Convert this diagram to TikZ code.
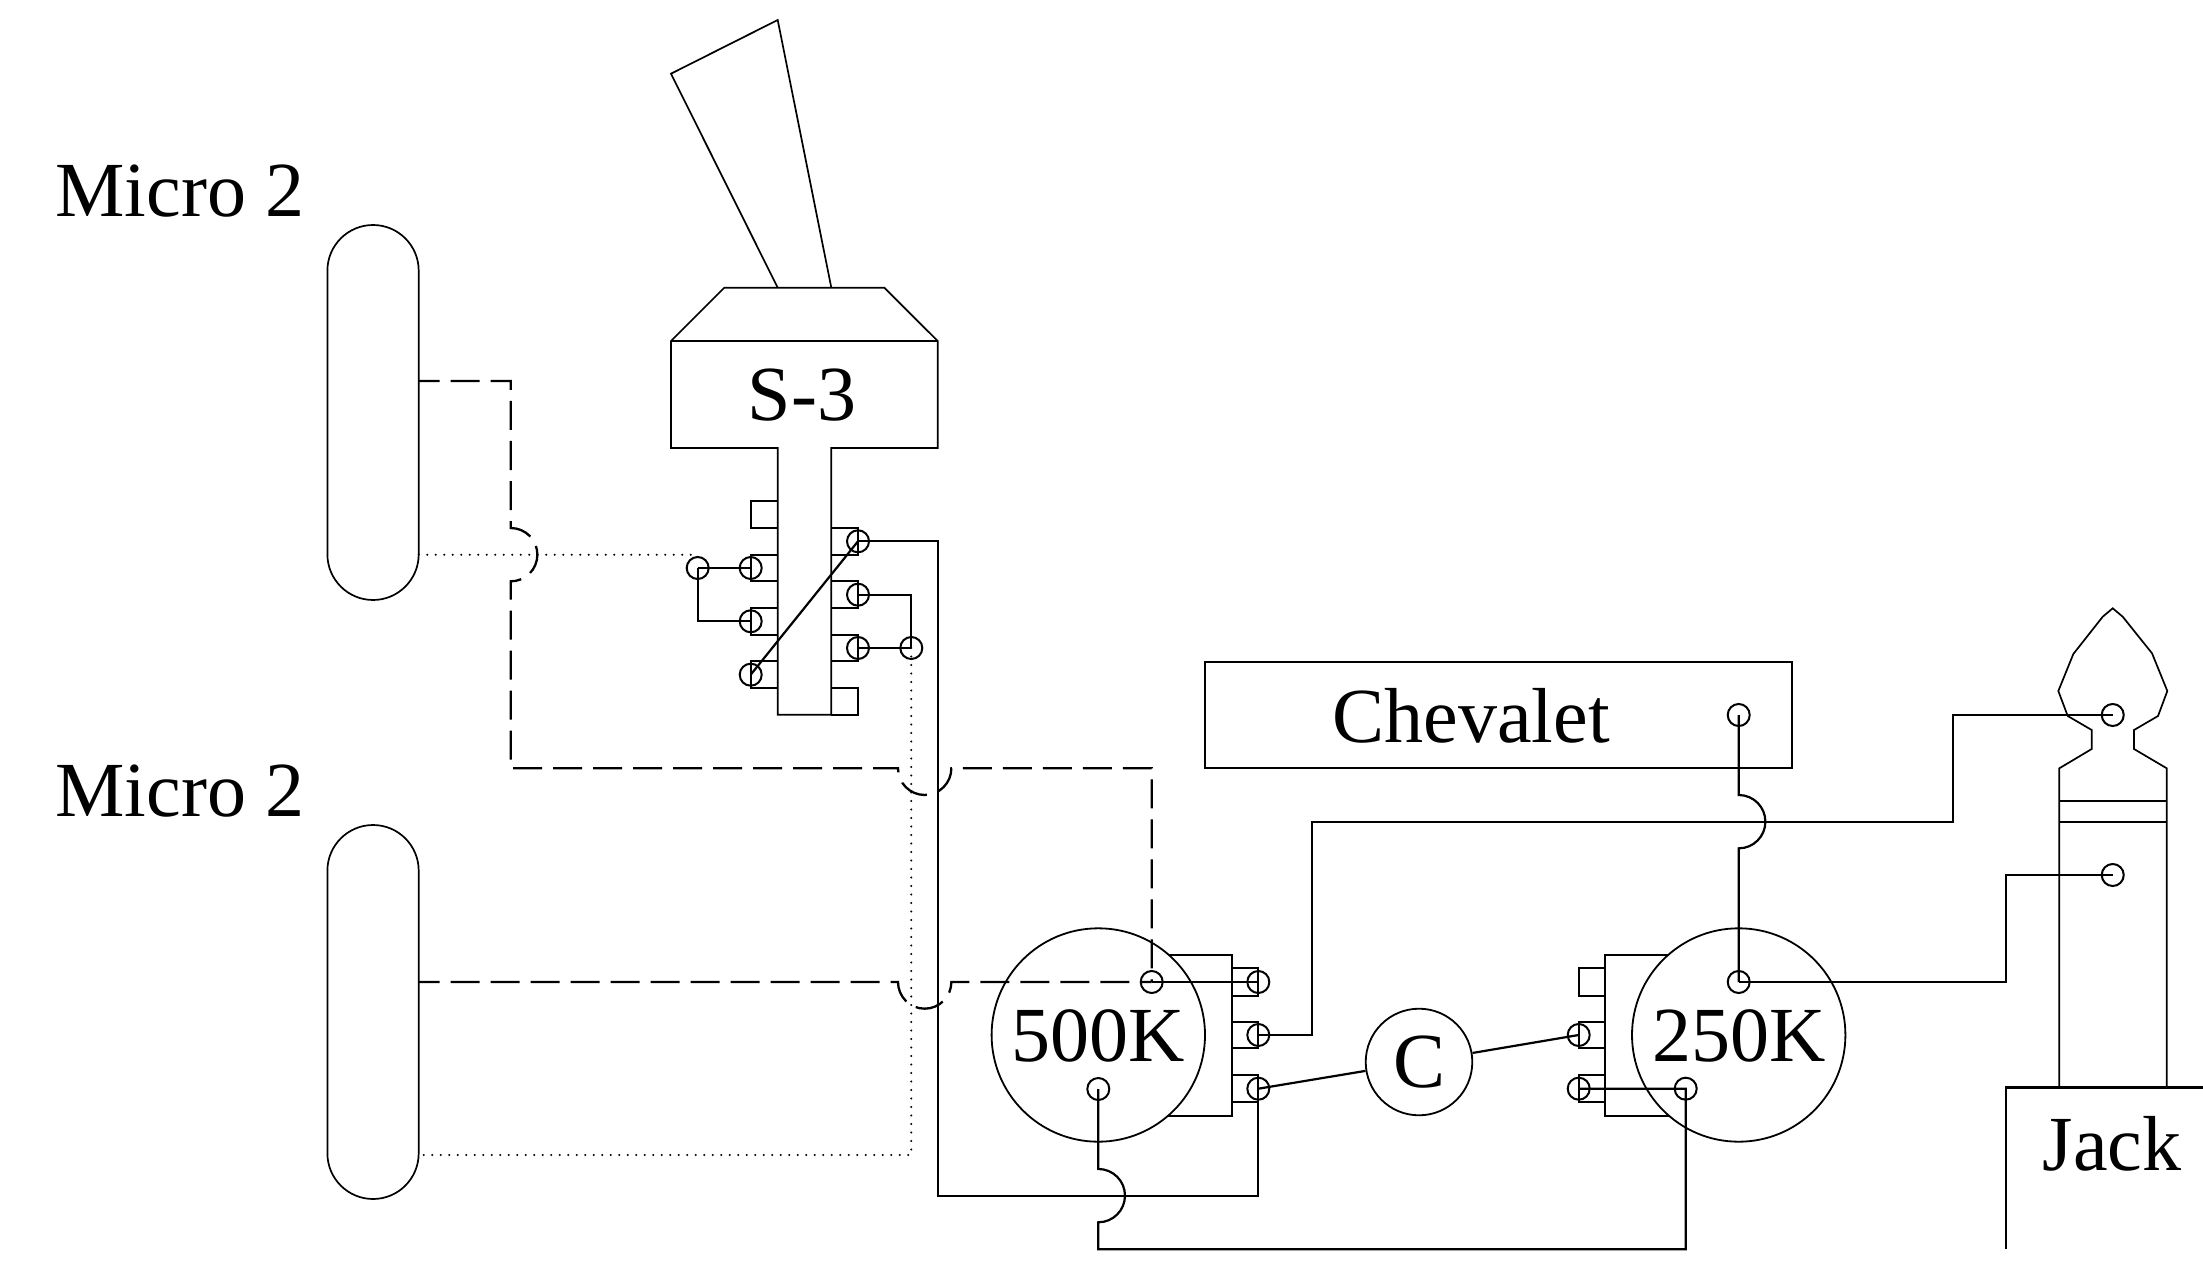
\documentclass[tikz,border=0pt]{standalone}
\usepackage{fontspec}
\setmainfont{Liberation Serif}
\tikzset{
  thinline/.style={line width=0.85pt,line join=miter},
  wire/.style={line width=1.1pt},
  dashwire/.style={line width=1.15pt,dash pattern=on 14.5pt off 5.5pt,dash phase=4pt},
  dotwire/.style={line width=1.15pt,line cap=round,dash pattern=on 0pt off 4.25pt},
  pin/.style={circle,draw,line width=1pt,minimum size=11pt,inner sep=0pt},
  label text/.style={font=\fontsize{39}{47}\selectfont,inner sep=0pt},
  potbody/.style={circle,draw,line width=0.9pt,fill=white,inner sep=0pt,minimum size=106.7pt}
}
\begin{document}
\begin{tikzpicture}[x=0.5pt,y=-0.5pt]
\useasboundingbox (0,0) rectangle (2203,1272);
% pickups
\draw[thinline,rounded corners=22.85pt] (327.4,225) rectangle (418.7,600);
\draw[thinline,rounded corners=22.85pt] (327.4,825) rectangle (418.7,1199);
\node[label text] (micro1) at (180,191.5) {Micro 2};
\node[label text] (micro2) at (180,791.5) {Micro 2};
% switch
\draw[thinline] (777.7,287.7) -- (671,73.7) -- (777.7,20) -- (831.3,287.7);
\draw[thinline] (671,341) -- (724.3,287.7) -- (884.3,287.7) -- (937.7,341) -- (937.7,448) -- (831.3,448) -- (831.3,714.7) -- (777.7,714.7) -- (777.7,448) -- (671,448) -- cycle;
\draw[thinline] (671,341) -- (937.7,341);
\node[label text] (sw) at (802,395.5) {S-3};
\foreach \ya/\yb in {501.3/528,554.7/581.3,608/634.7,661.3/688}
  \draw[thinline] (777.7,\ya) -- (750.7,\ya) -- (750.7,\yb) -- (777.7,\yb);
\foreach \ya/\yb in {528/554.7,581.3/608,634.7/661.3,688/714.7}
  \draw[thinline] (831.3,\ya) -- (858,\ya) -- (858,\yb) -- (831.3,\yb);
\node[pin] (l1) at (750.7,568) {};
\node[pin] (l2) at (750.7,621.3) {};
\node[pin] (l3) at (750.7,674.7) {};
\node[pin] (fl) at (697.7,568) {};
\node[pin] (r1) at (858,541.3) {};
\node[pin] (r2) at (858,594.7) {};
\node[pin] (r3) at (858,648) {};
\node[pin] (fr) at (911.3,648) {};
\draw[wire] (fl.center) -- (l1.center);
\draw[wire] (fl.center) |- (l2.center);
\draw[wire] (l3.center) -- (r1.center);
\draw[wire] (r2.center) -| (fr.center);
\draw[wire] (r3.center) -- (fr.center);
% pots
\draw[thinline] (1098.3,955) -- (1231.7,955) -- (1231.7,1115.7) -- (1098.3,1115.7);
\draw[thinline] (1738.7,955) -- (1605.3,955) -- (1605.3,1115.7) -- (1738.7,1115.7);
\node[potbody] (pa) at (1098.3,1035) {};
\node[potbody] (pb) at (1738.7,1035) {};
\node[label text] (pat) at (1098.3,1036) {500K};
\node[label text] (pbt) at (1738.7,1036) {250K};
\foreach \ya/\yb in {968.3/995.7,1021.7/1048.3,1075.3/1102}{
  \draw[thinline] (1231.7,\ya) -- (1258.3,\ya) -- (1258.3,\yb) -- (1231.7,\yb);
  \draw[thinline] (1605.3,\ya) -- (1578.7,\ya) -- (1578.7,\yb) -- (1605.3,\yb);
}
\node[pin] (a1) at (1258.3,982) {};
\node[pin] (a2) at (1258.3,1035) {};
\node[pin] (a3) at (1258.3,1088.7) {};
\node[pin] (ac) at (1151.7,982) {};
\node[pin] (ab) at (1098.3,1089) {};
\node[pin] (b2) at (1578.7,1035) {};
\node[pin] (b3) at (1578.7,1088.7) {};
\node[pin] (bc) at (1738.7,982) {};
\node[pin] (bb) at (1685.7,1088.7) {};
% capacitor
\node[circle,draw,line width=0.9pt,fill=white,inner sep=0pt,minimum size=53.3pt] (cap) at (1419,1062) {};
\node[label text] (capt) at (1419,1062) {C};
\draw[wire] (a3.center) -- (cap);
\draw[wire] (b2.center) -- (cap);
% chevalet
\draw[thinline] (1205,661.7) rectangle (1792.3,768.3);
\node[label text] (chev) at (1471,716) {Chevalet};
\node[pin] (cv) at (1738.7,715) {};
% jack
\draw[thinline] (2059.3,1087.5) -- (2059.3,768.3) -- (2091.7,749) -- (2091.7,730) -- (2067.7,716) -- (2058.3,691) -- (2073.3,654) -- (2102.7,616.7) -- (2112.7,608.3) -- (2122.7,616.7) -- (2152,653.3) -- (2167.3,691) -- (2158,716) -- (2134,730) -- (2134,749) -- (2166.7,768.3) -- (2166.7,1087.5);
\draw[thinline] (2059.3,800.7) -- (2166.7,800.7);
\draw[thinline] (2059.3,821.7) -- (2166.7,821.7);
\draw[wire] (2203,1087.5) -- (2006,1087.5) -- (2006,1249);
\node[label text] (jk) at (2112,1143.5) {Jack};
\node[pin] (j1) at (2112.7,715) {};
\node[pin] (j2) at (2112.7,875) {};
% wires
\coordinate (jw1) at (1311.7,821.7);
\draw[wire] (r1.center) -- (937.7,541.3) -- (937.7,1195.7) -- (1258.3,1195.7) -- (a3.center);
\draw[wire] (a2.center) -| (jw1) -- (1952.7,821.7) |- (j1.center);
\draw[wire] (a1.center) -- (ac.center);
\draw[wire] (cv.center) -- (1738.7,795) arc[start angle=-90,end angle=90,radius=26.67] -- (bc.center);
\draw[wire] (bc.center) -- (2006,982) |- (j2.center);
\draw[wire] (b3.center) -- (bb.center) -- (1685.7,1249.3) -- (1098.3,1249.3) -- (1098.3,1222.3) arc[start angle=90,end angle=-90,radius=26.67] -- (ab.center);
% dashed
\draw[dashwire] (418.7,381) -- (510.7,381) -- (510.7,528) arc[start angle=-90,end angle=90,radius=26.67] -- (510.7,768.3) -- (898,768.3) arc[start angle=180,end angle=0,radius=26.67] -- (1151.7,768.3) -- (ac.center);
\draw[dashwire] (418.7,982) -- (898,982) arc[start angle=180,end angle=0,radius=26.67] -- (ac.center);
% dotted
\draw[dotwire] (418.7,554.7) -- (697.7,554.7);
\draw[dotwire] (fr.center) -- (911.3,1155) -- (418.7,1155);
\end{tikzpicture}
\end{document}
